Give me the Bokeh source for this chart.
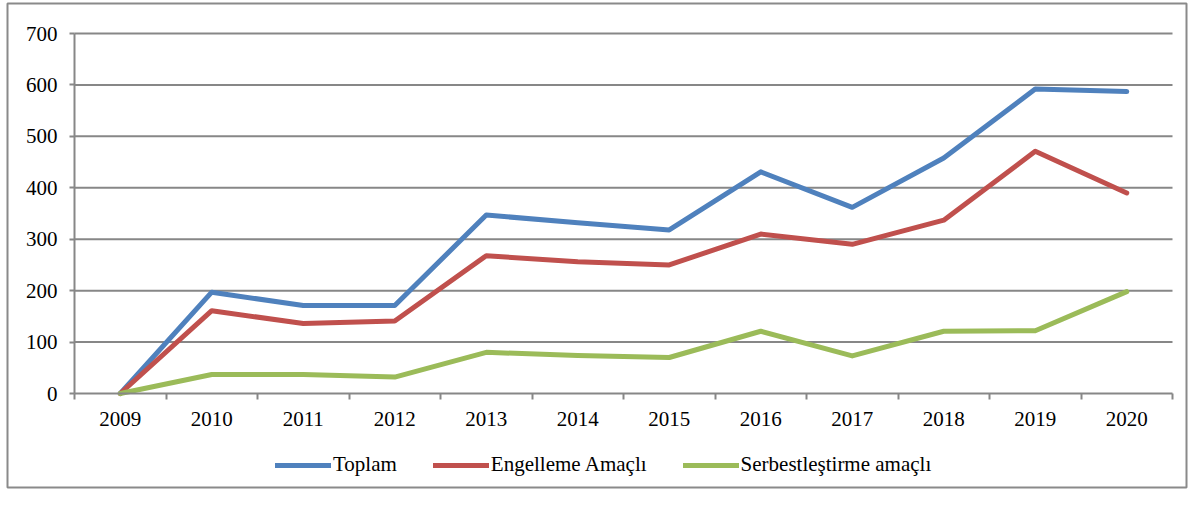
from bokeh.plotting import figure
from bokeh.models import FixedTicker, Legend, LegendItem, ColumnDataSource
from bokeh.embed import file_html
from bokeh.resources import INLINE
import numpy as np

years = ["2009", "2010", "2011", "2012", "2013", "2014", "2015", "2016", "2017", "2018", "2019", "2020"]
toplam = [0, 197, 171, 171, 347, 332, 318, 431, 362, 458, 592, 587]
engelleme = [0, 161, 136, 141, 268, 256, 250, 310, 290, 337, 471, 390]
serbest = [0, 37, 37, 32, 80, 74, 70, 121, 73, 121, 122, 198]
series_names = ["Toplam", "Engelleme Amaçlı", "Serbestleştirme amaçlı"]
y_ticks = [0, 100, 200, 300, 400, 500, 600, 700]
colors = ["#4F81BD", "#C0504D", "#9BBB59"]

n = len(years)
xpos = np.arange(n) + 0.5
src = ColumnDataSource(dict(x=xpos, toplam=toplam, engelleme=engelleme, serbest=serbest))

FONT = "Liberation Serif"
GRAY = "#878787"

# layout (pixels): outer frame box and inner plot area
W, H = 1188, 489
BL, BT, BR, BB = 7, 3, 1186, 487          # outer border box
PL, PT, PR, PB = 74, 33, 1172, 393        # plot area
ymax = y_ticks[-1]
sx = (PR - PL) / n
sy = (PB - PT) / ymax
x_range = (-(PL - BL) / sx, n + (BR - PR) / sx)
y_range = (-(BB - PB) / sy, ymax + (PT - BT) / sy)

p = figure(width=W, height=H, x_range=x_range, y_range=y_range, title=None,
           output_backend="svg", toolbar_location=None,
           min_border_left=BL, min_border_top=BT, min_border_right=W - BR, min_border_bottom=H - BB)
p.outline_line_color = "#8a8a8a"
p.outline_line_width = 2
p.background_fill_color = "white"
p.border_fill_color = "white"
p.xgrid.visible = False
p.ygrid.visible = False

# horizontal grid lines
gy = [t for t in y_ticks if t > 0]
p.segment(x0=[0] * len(gy), x1=[n] * len(gy), y0=gy, y1=gy, line_color=GRAY, line_width=2)

# x axis: at y=0, labels at category centers, tick marks at category boundaries
xa = p.xaxis[0]
xa.fixed_location = 0
xa.bounds = (0, n)
xa.ticker = FixedTicker(ticks=list(xpos), minor_ticks=list(range(n + 1)))
xa.major_label_overrides = {float(x): y for x, y in zip(xpos, years)}
xa.major_tick_out = 0
xa.major_tick_in = 0
xa.minor_tick_out = 6
xa.minor_tick_in = 0
xa.minor_tick_line_color = GRAY
xa.minor_tick_line_width = 2
xa.axis_line_color = GRAY
xa.axis_line_width = 2
xa.major_label_text_font = FONT
xa.major_label_text_font_size = "21px"
xa.major_label_text_color = "black"
xa.major_label_standoff = 12

ya = p.yaxis[0]
ya.fixed_location = 0
ya.bounds = (0, ymax)
ya.ticker = FixedTicker(ticks=y_ticks)
ya.major_tick_out = 5
ya.major_tick_in = 0
ya.major_tick_line_color = GRAY
ya.major_tick_line_width = 2
ya.minor_tick_line_color = None
ya.axis_line_color = GRAY
ya.axis_line_width = 2
ya.major_label_text_font = FONT
ya.major_label_text_font_size = "21px"
ya.major_label_text_color = "black"
ya.major_label_standoff = 12

renderers = []
for col, name, c in zip(["toplam", "engelleme", "serbest"], series_names, colors):
    r = p.line("x", col, source=src, line_color=c, line_width=5,
               line_cap="round", line_join="round")
    renderers.append(r)

legend = Legend(items=[LegendItem(label=nm, renderers=[r]) for nm, r in zip(series_names, renderers)],
                orientation="horizontal", location=(268, 10),
                glyph_width=56, glyph_height=20, label_standoff=2, spacing=36,
                padding=0, margin=0, border_line_color=None, background_fill_alpha=0,
                label_text_font=FONT, label_text_font_size="21px", label_text_color="black")
p.add_layout(legend, "center")

open("out.html", "w").write(file_html(p, INLINE))
